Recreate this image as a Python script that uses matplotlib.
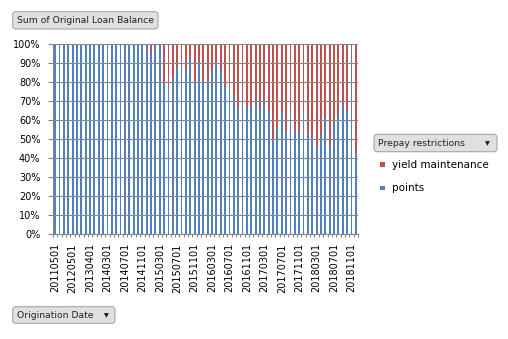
import numpy as np
import matplotlib
matplotlib.use("Agg")
import matplotlib.pyplot as plt
from matplotlib.patches import FancyBboxPatch, Rectangle
from matplotlib.transforms import IdentityTransform

# Origination dates (pivot categories), label shown on every 4th
categories = [
    "20110501", "20110801", "20111101", "20120201",
    "20120501", "20120801", "20121101", "20130101",
    "20130401", "20130701", "20131001", "20140101",
    "20140301", "20140401", "20140501", "20140601", "20140701", "20140801",
    "20140901", "20141001", "20141101", "20141201",
    "20150101", "20150201", "20150301", "20150401", "20150501", "20150601",
    "20150701", "20150801", "20150901", "20151001", "20151101", "20151201",
    "20160101", "20160201", "20160301", "20160401", "20160501", "20160601",
    "20160701", "20160801", "20160901", "20161001", "20161101", "20161201",
    "20170101", "20170201", "20170301", "20170401", "20170501", "20170601",
    "20170701", "20170801", "20170901", "20171001", "20171101", "20171201",
    "20180101", "20180201", "20180301", "20180401", "20180501", "20180601",
    "20180701", "20180801", "20180901", "20181001", "20181101", "20181201",
]

# share of original loan balance with "points" prepay restriction (%)
points = [
    100, 100, 100, 100, 100, 100, 100, 100, 100, 100, 100, 100,
    100, 100, 100, 100, 100, 100, 100, 100, 100, 100,
    94.9, 100, 100, 78.7, 76.0, 81.8, 88.0, 92.3, 86.0, 92.2, 80.2, 91.0,
    81.3, 80.4, 85.5, 90.3, 85.5, 77.4, 79.0, 72.0, 66.0, 72.0, 66.5, 67.0,
    70.5, 65.8, 69.2, 64.6, 49.4, 55.8, 64.0, 53.4, 66.1, 54.0, 52.8, 64.5,
    53.2, 51.1, 45.2, 52.4, 61.7, 45.9, 58.7, 62.6, 68.3, 64.0, 100, 42.9,
]
# remainder is yield maintenance
yield_maint = [100 - p for p in points]

blue = "#4F81BD"
red = "#C0504D"
grid_col = "#868686"

W, H = 508, 339
fig = plt.figure(figsize=(W / 100, H / 100), dpi=100)
plt.rcParams["font.family"] = ["DejaVu Sans"]

# plot area in pixels: left 53, right 358, top 44, bottom 233.5
ax = fig.add_axes([53 / W, 1 - 233.5 / H, 305 / W, (233.5 - 44) / H])

x = np.arange(len(categories))
ax.bar(x, points, width=0.42, color=blue, zorder=1)
ax.bar(x, yield_maint, bottom=points, width=0.42, color=red, zorder=1)

ax.set_xlim(-0.5, len(categories) - 0.5)
ax.set_ylim(0, 100)
ax.set_axisbelow(False)
ax.yaxis.grid(True, color=grid_col, lw=0.8)

ax.set_yticks(np.arange(0, 101, 10))
ax.set_yticklabels([f"{v}%" for v in range(0, 101, 10)])
ax.tick_params(axis="y", length=3.6, width=0.8, color=grid_col, pad=5.5, labelsize=7)

ax.set_xticks(x[::4])
ax.set_xticklabels(categories[::4], rotation=90)
ax.set_xticks(np.arange(-0.5, len(categories), 1), minor=True)
ax.tick_params(axis="x", which="major", length=0, pad=7, labelsize=7)
ax.tick_params(axis="x", which="minor", length=2.5, width=0.8, color=grid_col)

for s in ["top", "right"]:
    ax.spines[s].set_visible(False)
for s in ["left", "bottom"]:
    ax.spines[s].set_color(grid_col)
    ax.spines[s].set_linewidth(0.8)


def button(x0, y0, x1, y1, label, arrow_x=None):
    # pixel coords with top-left origin
    box = FancyBboxPatch((x0, H - y1), x1 - x0, y1 - y0,
                         boxstyle="round,pad=0,rounding_size=3",
                         transform=IdentityTransform(), fc="#E0E0E0",
                         ec="#A6A6A6", lw=0.8)
    fig.add_artist(box)
    fig.text((x0 + 4) / W, 1 - (y0 + y1) / 2 / H, label, fontsize=6.7,
             ha="left", va="center", color="#222222")
    if arrow_x is not None:
        fig.text(arrow_x / W, 1 - ((y0 + y1) / 2 + 0.5) / H, "\u25bc",
                 fontsize=4.5, ha="center", va="center", color="#111111")


button(12.7, 11.7, 158, 29, "Sum of Original Loan Balance")
button(374, 134.3, 497, 151.7, "Prepay restrictions", arrow_x=487)
button(12.7, 306.7, 115, 323.3, "Origination Date", arrow_x=106.5)

# legend
for yc, col, lab in [(164.5, red, "yield maintenance"), (188, blue, "points")]:
    fig.add_artist(Rectangle((380, H - yc - 2.3), 4.5, 4.5,
                             transform=IdentityTransform(), fc=col, ec="none"))
    fig.text(392 / W, 1 - yc / H, lab, fontsize=7.5, ha="left", va="center")

fig.savefig("out.png", dpi=100)
